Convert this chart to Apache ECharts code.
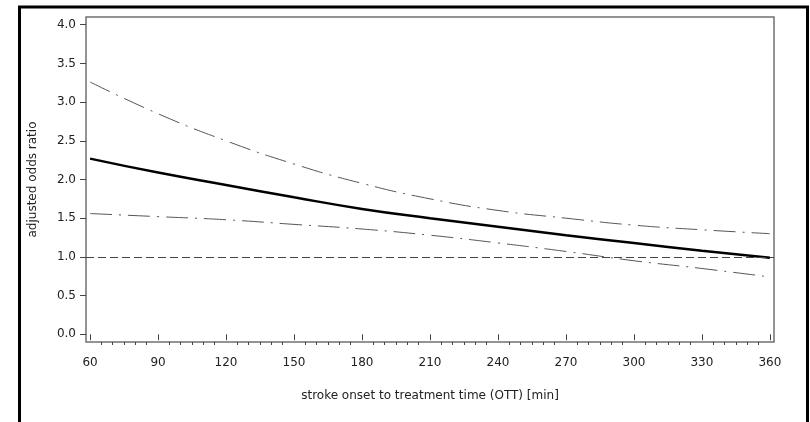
<!DOCTYPE html>
<html>
<head>
<meta charset="utf-8">
<script src="https://cdn.jsdelivr.net/npm/echarts@6/dist/echarts.min.js"></script>
<style>
html,body{margin:0;padding:0;background:#fff;}
#chart{width:810px;height:422px;}
</style>
</head>
<body>
<div id="chart"></div>
<script>
// Data
var ottMinutes = [60, 90, 120, 150, 180, 210, 240, 270, 300, 330, 360];
var oddsRatio  = [2.27, 2.09, 1.93, 1.77, 1.62, 1.50, 1.39, 1.28, 1.18, 1.08, 0.99];
var upperCI    = [3.26, 2.85, 2.50, 2.20, 1.95, 1.75, 1.60, 1.50, 1.41, 1.35, 1.30];
var lowerCI    = [1.56, 1.52, 1.48, 1.42, 1.36, 1.28, 1.18, 1.07, 0.95, 0.85, 0.74];
var referenceOR = 1.0;
var xTickLabels = [60, 90, 120, 150, 180, 210, 240, 270, 300, 330, 360];
var xMinorTicks = [65,70,75,80,85,95,100,105,110,115,125,130,135,140,145,155,160,165,170,175,185,190,195,200,205,215,220,225,230,235,245,250,255,260,265,275,280,285,290,295,305,310,315,320,325,335,340,345,350,355];
var yTickLabels = [0, 0.5, 1.0, 1.5, 2.0, 2.5, 3.0, 3.5, 4.0];

function pairs(ys){ return ottMinutes.map(function(x,i){ return [x, ys[i]]; }); }

var fontFam = '"DejaVu Sans", sans-serif';
var txt = '#222';
var chart = echarts.init(document.getElementById('chart'), null, {renderer:'canvas'});
chart.setOption({
  animation: false,
  backgroundColor: '#fff',
  graphic: [{
    type: 'rect',
    shape: {x: 19.5, y: 7, width: 788, height: 440},
    style: {fill: 'none', stroke: '#000', lineWidth: 3},
    silent: true
  }],
  grid: {
    left: 86, top: 17, right: 36, bottom: 80,
    show: true, borderColor: '#707070', borderWidth: 1.5, backgroundColor: 'transparent'
  },
  xAxis: [{
    type: 'value', min: 58.2, max: 361.8,
    name: 'stroke onset to treatment time (OTT) [min]',
    nameLocation: 'middle', nameGap: 48,
    nameTextStyle: {fontFamily: fontFam, fontSize: 12, color: txt},
    axisLine: {show: false},
    splitLine: {show: false},
    axisTick: {show: true, length: 6, customValues: xTickLabels, lineStyle: {color: '#444', width: 1}},
    axisLabel: {customValues: xTickLabels, margin: 15, fontFamily: fontFam, fontSize: 12, color: txt}
  }, {
    type: 'value', min: 58.2, max: 361.8, position: 'bottom',
    axisLine: {show: false},
    splitLine: {show: false},
    axisTick: {show: true, length: 3, customValues: xMinorTicks, lineStyle: {color: '#444', width: 1}},
    axisLabel: {show: false}
  }],
  yAxis: [{
    type: 'value', min: -0.1, max: 4.1,
    name: 'adjusted odds ratio',
    nameLocation: 'middle', nameGap: 47, nameRotate: 90,
    nameTextStyle: {fontFamily: fontFam, fontSize: 12, color: txt},
    axisLine: {show: false},
    splitLine: {show: false},
    axisTick: {show: true, length: 6, customValues: yTickLabels, lineStyle: {color: '#444', width: 1}},
    axisLabel: {customValues: yTickLabels, margin: 10, fontFamily: fontFam, fontSize: 12, color: txt,
      formatter: function(v){ return Number(v).toFixed(1); }}
  }],
  series: [{
    type: 'line', name: 'upper', data: pairs(upperCI), smooth: true, showSymbol: false,
    lineStyle: {color: '#555', width: 1, type: [22, 7, 2, 7]}
  }, {
    type: 'line', name: 'lower', data: pairs(lowerCI), smooth: true, showSymbol: false,
    lineStyle: {color: '#555', width: 1, type: [22, 7, 2, 7]}
  }, {
    type: 'line', name: 'OR', data: pairs(oddsRatio), smooth: true, showSymbol: false,
    lineStyle: {color: '#000', width: 2.5},
    markLine: {
      silent: true, symbol: ['none','none'], label: {show: false},
      lineStyle: {color: '#444', width: 1, type: [8, 4]},
      data: [{yAxis: referenceOR}]
    }
  }]
});
</script>
</body>
</html>
